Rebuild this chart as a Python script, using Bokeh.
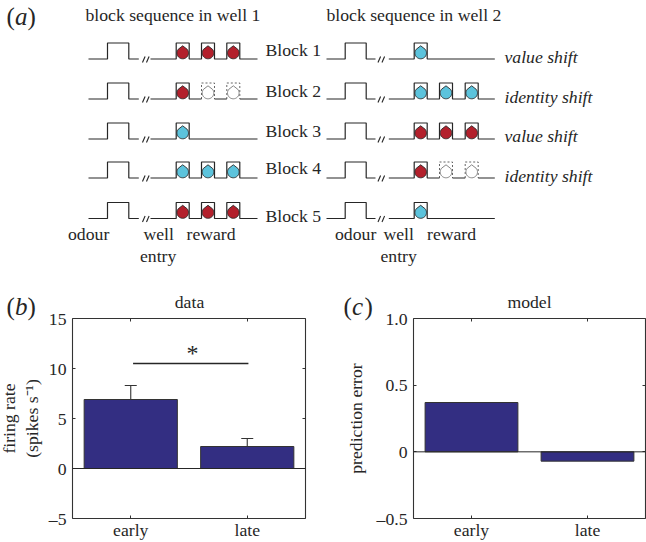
import numpy as np
from bokeh.core.properties import value
from bokeh.embed import file_html
from bokeh.resources import INLINE
from bokeh.plotting import figure
from bokeh.layouts import column, row
from bokeh.models import LinearAxis, FixedTicker, Span, Label, Range1d, ColumnDataSource

# ---- data ----
groups = ["early", "late"]
rate_means = [6.9, 2.2]
rate_tops = [8.3, 3.0]
pe_values = [0.37, -0.07]
rate_ticks = [-5, 0, 5, 10, 15]
pe_ticks = [-0.5, 0, 0.5, 1.0]
block_names = ["Block 1", "Block 2", "Block 3", "Block 4", "Block 5"]
shift_names = ["value shift", "identity shift", "value shift", "identity shift"]
well1_rewards = [["red", "red", "red"], ["red", "none", "none"], ["cyan"],
                 ["cyan", "cyan", "cyan"], ["red", "red", "red"]]
well2_rewards = [["cyan"], ["cyan", "cyan", "cyan"], ["red", "red", "red"],
                 ["red", "none", "none"], ["cyan"]]

FONT = "Liberation Serif"
INK = "#262626"
BAR = "#332e82"
RED = "#b3202c"
CYAN = "#5cc3dc"
FS = 17.7

# ---- schematic and all free-standing text (a full-page layer) ----
top = figure(width=646, height=542, x_range=Range1d(0, 646), y_range=Range1d(542, 0),
             output_backend="svg", toolbar_location=None, min_border=0)
top.axis.visible = False
top.grid.visible = False
top.outline_line_color = None

baselines = [58.5, 98.5, 138.5, 177.5, 218.0]
PULSE_H = 16.0

well_layout = [
    dict(x0=88, up=107, down=128.3, stop=138.3, slash=142, restart=150,
         pulses=[175.7, 201, 226.3], end=257),
    dict(x0=326, up=344.7, down=365.7, stop=375, slash=377.5, restart=388.3,
         pulses=[413.7, 439, 464.7], end=494.3),
]
PW = 13.0


def drop(cx, cy, r=5.8, tip=7.2):
    t = np.linspace(0.28 * np.pi, 1.72 * np.pi, 32)
    xs = cx + r * np.sin(t)
    ys = cy - r * np.cos(t)
    return list(xs) + [cx], list(ys) + [cy - tip]


def draw_row(layout, base, rewards):
    hi = base - PULSE_H
    L = layout
    top.line([L["x0"], L["up"], L["up"], L["down"], L["down"], L["stop"]],
             [base, base, hi, hi, base, base], line_color=INK, line_width=1.2)
    for off in (0, 4):
        top.line([L["slash"] + off, L["slash"] + off + 2.6], [base + 3.5, base - 2.5],
                 line_color=INK, line_width=1.1)
    xs, ys = [L["restart"]], [base]
    for i, kind in enumerate(rewards):
        px = L["pulses"][i]
        if kind == "none":
            xs += [px, np.nan, px + PW]
            ys += [base, np.nan, base]
            top.line([px, px, px + PW, px + PW], [base, hi, hi, base],
                     line_color="#666666", line_width=1.0, line_dash="2 2")
        else:
            xs += [px, px, px + PW, px + PW]
            ys += [base, hi, hi, base]
    xs.append(L["end"])
    ys.append(base)
    top.line(xs, ys, line_color=INK, line_width=1.2)
    for i, kind in enumerate(rewards):
        cx = L["pulses"][i] + PW / 2
        dx, dy = drop(cx, base - 6.0)
        if kind == "none":
            top.patch(dx, dy, fill_color="white", line_color="#777777", line_width=0.9)
        else:
            top.patch(dx, dy, fill_color=RED if kind == "red" else CYAN,
                      line_color="#2a2a2a", line_width=0.9)


for base_y, r1, r2 in zip(baselines, well1_rewards, well2_rewards):
    draw_row(well_layout[0], base_y, r1)
    draw_row(well_layout[1], base_y, r2)


def txt(x, y, s, size=FS, style="normal", align="left", angle=0.0):
    """x and y are measured from the page's top-left corner."""
    top.add_layout(Label(x=x, y=542 - y, text=s, x_units="screen", y_units="screen", angle=angle,
                         text_font=FONT, text_font_size=f"{size}px", text_font_style=style,
                         text_align=align, text_baseline="middle", text_color=INK))


def panel_tag(x, y, letter):
    txt(x, y, "(", size=25)
    txt(x + 8.5, y, letter, size=25, style="italic")
    txt(x + 21, y, ")", size=25)


panel_tag(6, 16, "a")
txt(85, 14, "block sequence in well 1")
txt(326, 14, "block sequence in well 2")
for name, y in zip(block_names, [49, 90, 130, 167, 215]):
    txt(265, y, name)
for name, y in zip(shift_names, [56.5, 96.5, 135.5, 175.5]):
    txt(504, y, name, style="italic")
for s, x, y in [("odour", 67.5, 233.5), ("well", 143, 233.5), ("entry", 139.5, 255.5),
                ("reward", 186, 233.5), ("odour", 334.5, 233.5), ("well", 383, 233.5),
                ("entry", 380, 255.5), ("reward", 426.5, 233.5)]:
    txt(x, y, s)

panel_tag(6, 306, "b")
panel_tag(343, 306, "c")
txt(189, 301, "data", align="center")
txt(529, 301, "model", align="center")
txt(8, 418, "firing rate", align="center", angle=np.pi / 2)
txt(31, 418, "(spikes s\u207b\u00b9)", align="center", angle=np.pi / 2)
txt(355, 418, "prediction error", align="center", angle=np.pi / 2)


# ---- bar panels ----
def panel(width, left, right, y_range, yticks, labels):
    p = figure(width=width, height=252, x_range=Range1d(0.5, 2.5), y_range=Range1d(*y_range),
               output_backend="svg", toolbar_location=None,
               min_border_left=left, min_border_right=right, min_border_top=28, min_border_bottom=23,
               x_axis_location=None, y_axis_location=None,
               background_fill_color=None, border_fill_color=None)
    p.grid.visible = False
    p.outline_line_color = None
    for side in ("left", "right"):
        a = LinearAxis(ticker=FixedTicker(ticks=yticks))
        a.major_label_overrides = labels if side == "left" else {}
        p.add_layout(a, side)
    for side in ("below", "above"):
        a = LinearAxis(ticker=FixedTicker(ticks=[1, 2]))
        a.major_label_overrides = {1: groups[0], 2: groups[1]} if side == "below" else {}
        p.add_layout(a, side)
    for side_axes, show in ((p.left, True), (p.below, True), (p.right, False), (p.above, False)):
        for a in side_axes:
            a.axis_line_color = "#333333"
            a.axis_line_width = 1.1
            a.major_tick_line_color = "#333333"
            a.major_tick_in = 3
            a.major_tick_out = 0
            a.minor_tick_line_color = None
            a.major_label_standoff = 6 if show else 0
            a.major_label_text_font = FONT
            a.major_label_text_font_size = f"{FS}px" if show else "0px"
            a.major_label_text_color = INK if show else None
    p.below[0].major_label_standoff = 1
    return p


pos = [1, 2]
b = panel(320, 72, 15, (-5, 15), rate_ticks, {-5: "\u20135", 0: "0", 5: "5", 10: "10", 15: "15"})
src_b = ColumnDataSource(dict(x=pos, top=rate_means, up=rate_tops))
b.segment(x0="x", y0="top", x1="x", y1="up", source=src_b, line_color="#333333", line_width=1.1)
b.scatter(x="x", y="up", marker="dash", size=12, source=src_b, line_color="#333333", line_width=1.1)
b.vbar(x="x", top="top", bottom=0, width=0.8, source=src_b, fill_color=BAR, line_color="#333333", line_width=1)
b.add_layout(Span(location=0, dimension="width", line_color=INK, line_width=1))
b.line([1.02, 2.01], [10.5, 10.5], line_color=INK, line_width=1.3)
b.text(x=[1.53], y=[11.6], text=["*"], text_font_size="24px", text_align="center", text_baseline="middle",
       text_color=INK, text_font=value(FONT))

c = panel(326, 93, 1, (-0.5, 1.0), pe_ticks, {-0.5: "\u20130.5", 0: "0", 0.5: "0.5", 1: "1.0"})
src_c = ColumnDataSource(dict(x=pos, top=pe_values))
c.vbar(x="x", top="top", bottom=0, width=0.8, source=src_c, fill_color=BAR, line_color="#333333", line_width=1)
c.add_layout(Span(location=0, dimension="width", line_color=INK, line_width=1))

page = column(top, row(b, c, spacing=0, margin=(-252, 0, 0, 0)), spacing=0)
open("out.html", "w").write(file_html(page, INLINE))
